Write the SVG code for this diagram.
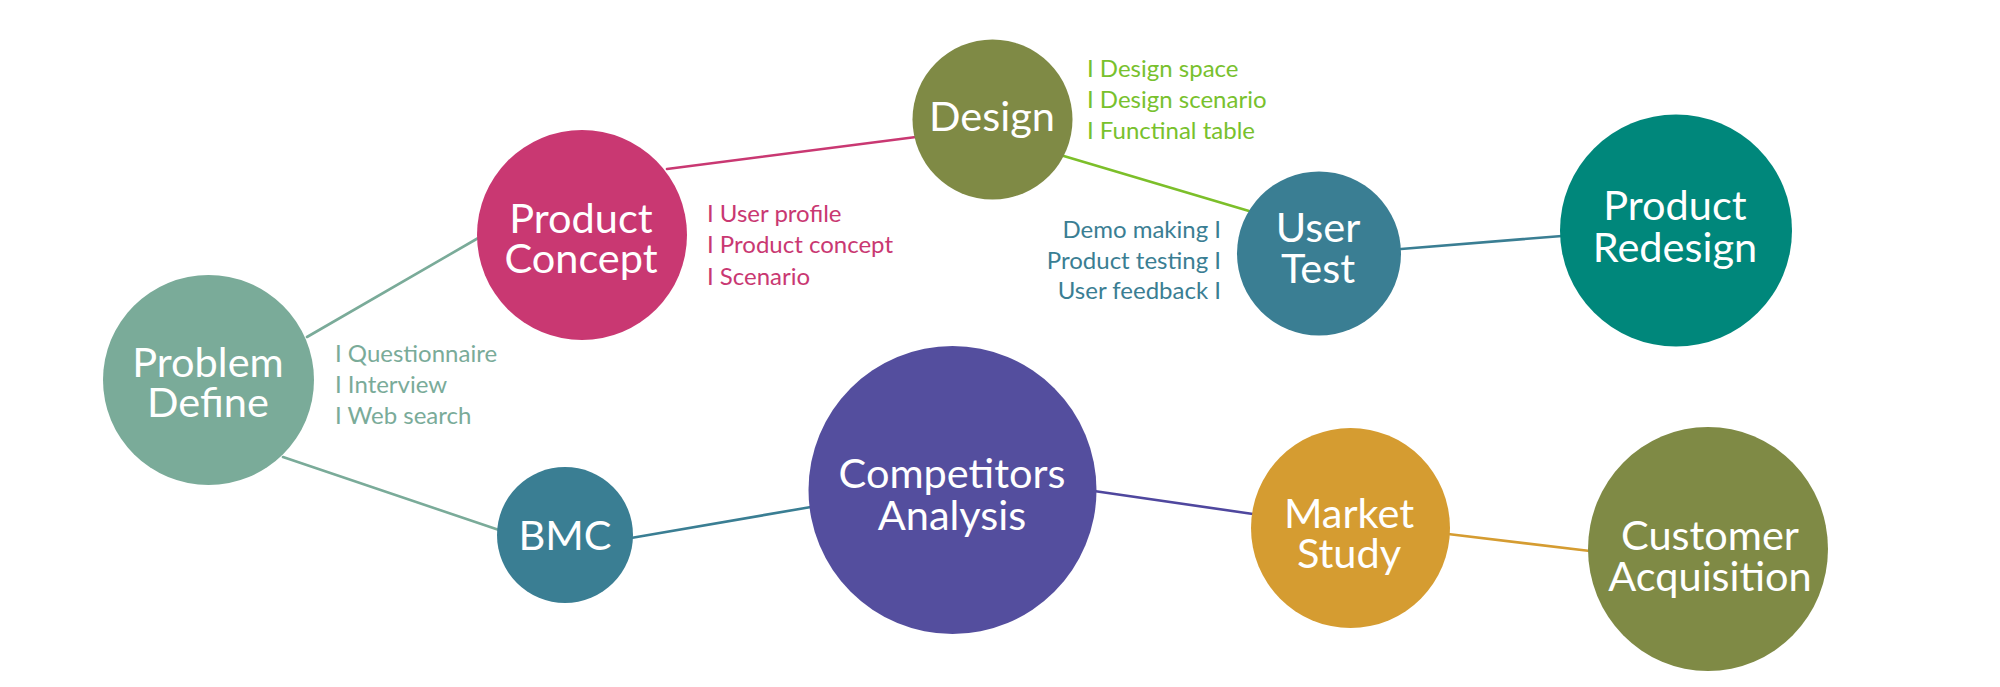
<svg xmlns="http://www.w3.org/2000/svg" width="2000" height="687" viewBox="0 0 2000 687">
<style>
.t{font-family:Lato,"Open Sans",sans-serif;font-size:41.5px;fill:#ffffff;text-anchor:middle}
.s{font-family:Lato,"Open Sans",sans-serif;font-size:24px}
.c{fill:none;stroke-width:2.6;stroke-linecap:round}
</style>
<rect width="2000" height="687" fill="#ffffff"/>
<g id="connectors">
<line class="c" x1="307" y1="337" x2="480" y2="237" stroke="#7aab99"/>
<line class="c" x1="283" y1="457" x2="499" y2="530" stroke="#7aab99"/>
<line class="c" x1="667" y1="169" x2="916" y2="137" stroke="#c93872"/>
<line class="c" x1="1057" y1="154" x2="1249" y2="211" stroke="#7cbf2a"/>
<line class="c" x1="1401" y1="249" x2="1562" y2="236" stroke="#3a7e93"/>
<line class="c" x1="631" y1="538" x2="811" y2="507" stroke="#3a7e93"/>
<line class="c" x1="1094" y1="491" x2="1253" y2="514" stroke="#4f479e"/>
<line class="c" x1="1448" y1="534" x2="1590" y2="551" stroke="#d59c31"/>
</g>
<g id="problem-define">
<ellipse cx="208.5" cy="380" rx="105.5" ry="105" fill="#7aab99"/>
<text class="t" x="208" y="377">Problem</text>
<text class="t" x="208" y="417">Define</text>
<g class="s" fill="#7aab99">
<text x="335" y="362">I Questionnaire</text>
<text x="335" y="393">I Interview</text>
<text x="335" y="424">I Web search</text>
</g>
</g>
<g id="product-concept">
<circle cx="582" cy="235" r="105" fill="#c93872"/>
<text class="t" x="581" y="233">Product</text>
<text class="t" x="581" y="273">Concept</text>
<g class="s" fill="#c93872">
<text x="707" y="222">I User profile</text>
<text x="707" y="253">I Product concept</text>
<text x="707" y="285">I Scenario</text>
</g>
</g>
<g id="design">
<circle cx="992.5" cy="119.5" r="80" fill="#7f8a45"/>
<text class="t" x="992" y="131">Design</text>
<g class="s" fill="#78c12d">
<text x="1087" y="77">I Design space</text>
<text x="1087" y="108">I Design scenario</text>
<text x="1087" y="139">I Functinal table</text>
</g>
</g>
<g id="user-test">
<circle cx="1319" cy="253.5" r="82" fill="#3a7e93"/>
<text class="t" x="1318" y="242">User</text>
<text class="t" x="1318" y="283">Test</text>
<g class="s" fill="#3a7e93" text-anchor="end">
<text x="1221" y="238">Demo making I</text>
<text x="1221" y="269">Product testing I</text>
<text x="1221" y="299">User feedback I</text>
</g>
</g>
<g id="product-redesign">
<circle cx="1676" cy="230.5" r="116" fill="#00877b"/>
<text class="t" x="1675" y="220">Product</text>
<text class="t" x="1675" y="262">Redesign</text>
</g>
<g id="bmc">
<circle cx="565" cy="535" r="68" fill="#3a7e93"/>
<text class="t" x="565" y="550">BMC</text>
</g>
<g id="competitors-analysis">
<circle cx="952.5" cy="490" r="144" fill="#544e9e"/>
<text class="t" x="952" y="488">Competitors</text>
<text class="t" x="952" y="530">Analysis</text>
</g>
<g id="market-study">
<ellipse cx="1350.5" cy="528" rx="99.5" ry="100" fill="#d59c31"/>
<text class="t" x="1349" y="528">Market</text>
<text class="t" x="1349" y="568">Study</text>
</g>
<g id="customer-acquisition">
<ellipse cx="1708" cy="549" rx="120" ry="122" fill="#7f8a45"/>
<text class="t" x="1710" y="550">Customer</text>
<text class="t" x="1710" y="591">Acquisition</text>
</g>
</svg>
